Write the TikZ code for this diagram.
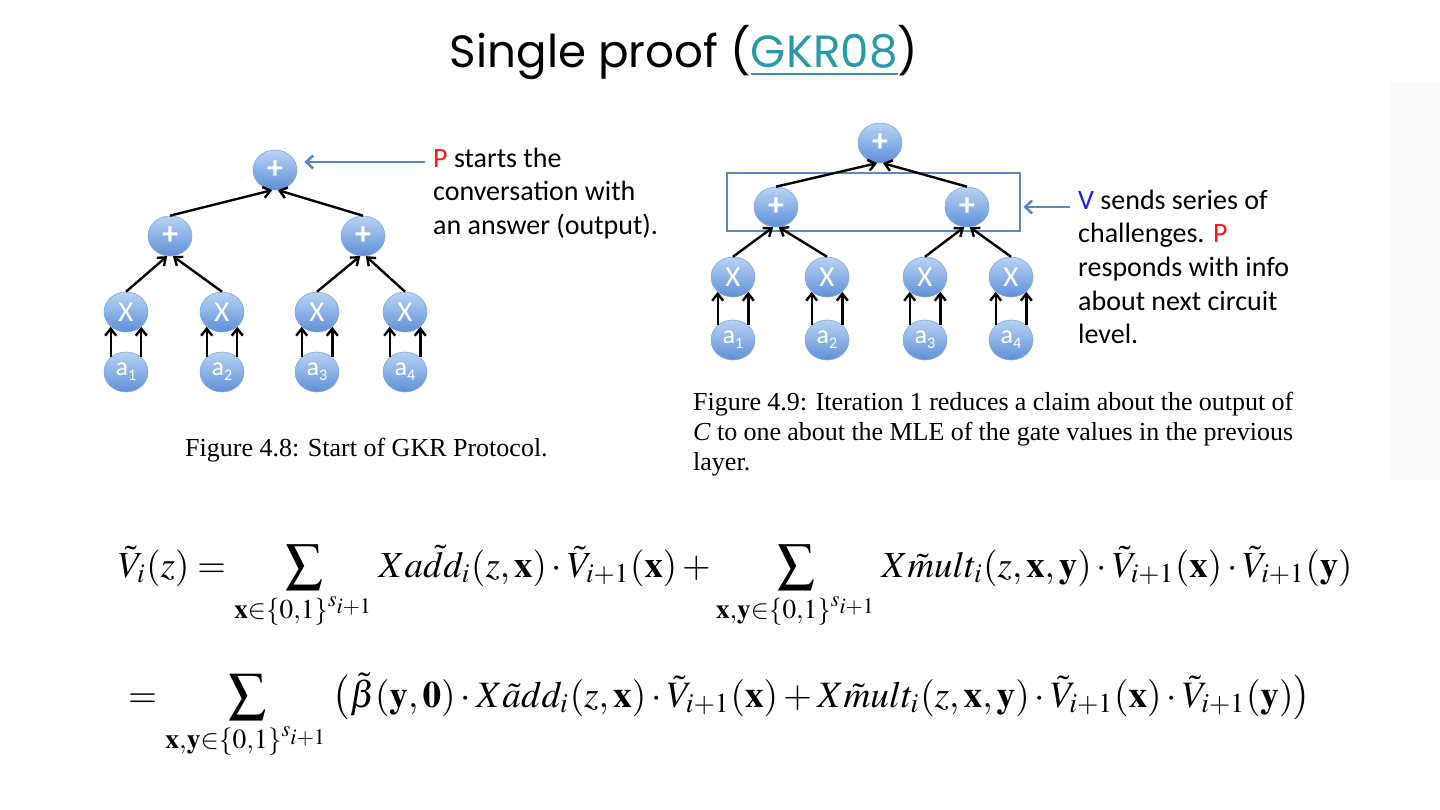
\documentclass[tikz,border=0pt]{standalone}
\usepackage{mathptmx}
\usepackage[no-math]{fontspec}
\setmainfont{Liberation Serif}
\newfontfamily\calib{Carlito}
\newfontfamily\titlefont{Poppins}
\usetikzlibrary{shapes.geometric,arrows.meta}
\definecolor{nodetop}{HTML}{B8D4F4}
\definecolor{nodebot}{HTML}{5F90D8}
\definecolor{nodeedge}{HTML}{7FA7DC}
\definecolor{steel}{HTML}{5B89BF}
\definecolor{linkteal}{HTML}{2A9AA6}
\definecolor{pred}{HTML}{FF1A1A}
\definecolor{vblue}{HTML}{2020E8}
\definecolor{panelgray}{HTML}{FAFAFA}
\newcommand\gatesub[1]{\fontsize{26}{26}\selectfont a\raisebox{-5pt}{\fontsize{16}{16}\selectfont #1}}
\newcommand\gateplus{\fontsize{32}{32}\selectfont\bfseries +}
\newcommand\gatetimes{\fontsize{29}{29}\selectfont X}
\begin{document}
\begin{tikzpicture}[x=1pt,y=-1pt,
  gate/.style={ellipse, minimum width=44pt, minimum height=40pt, inner sep=0pt,
    top color=nodetop, bottom color=nodebot, draw=nodeedge, line width=0.6pt,
    text=white, font=\calib},
  wire/.style={line width=2.4pt, -{Straight Barb[length=7pt,width=11pt]}},
  callout/.style={line width=2.6pt, draw=steel, -{Straight Barb[length=7pt,width=13pt]}},
  lbl/.style={anchor=base west, inner sep=0pt, font=\calib\fontsize{28}{33}\selectfont},
  figcap/.style={anchor=base west, inner sep=0pt, font=\fontsize{26}{30}\selectfont},
]
\useasboundingbox (0,0) rectangle (1440,810);
\fill[white] (0,0) rectangle (1440,810);
\fill[panelgray] (1390,82) rectangle (1440,480);

% title
\node[inner sep=0pt] (title) at (684,52) {\resizebox{468pt}{!}{\titlefont Single proof (\textcolor{linkteal}{\underline{GKR08}})}};

% ---------- left tree ----------
\node[gate] (lt) at (275,170) {\gateplus};
\node[gate] (ll) at (170,236) {\gateplus};
\node[gate] (lr) at (363,236) {\gateplus};
\node[gate] (lx1) at (126,312) {\gatetimes};
\node[gate] (lx2) at (222,312) {\gatetimes};
\node[gate] (lx3) at (317,312) {\gatetimes};
\node[gate] (lx4) at (405,312) {\gatetimes};
\node[gate] (la1) at (126,372) {\gatesub{1}};
\node[gate] (la2) at (222,372) {\gatesub{2}};
\node[gate] (la3) at (317,372) {\gatesub{3}};
\node[gate] (la4) at (405,372) {\gatesub{4}};
\draw[wire] (ll.north) -- (lt.262);
\draw[wire] (lr.north) -- (lt.278);
\draw[wire] (lx1.north) -- (ll.262);
\draw[wire] (lx2.north) -- (ll.278);
\draw[wire] (lx3.north) -- (lr.262);
\draw[wire] (lx4.north) -- (lr.278);
\foreach \i in {1,2,3,4}{
  \draw[wire] (la\i.136) -- (lx\i.224);
  \draw[wire] (la\i.44) -- (lx\i.316);
}
\coordinate (pstart) at (425,162);
\draw[callout] (pstart) -- ([xshift=7pt]pstart -| lt.east);
\node[lbl] (pt1) at (433,168) {\textcolor{pred}{P} starts the};
\node[lbl] (pt2) at (433,201) {conversation with};
\node[lbl] (pt3) at (433,235) {an answer (output).};
\node[figcap] (cap1) at (185,456) {Figure 4.8: Start of GKR Protocol.};

% ---------- right tree ----------
\node[draw=steel, line width=2.5pt, minimum width=293pt, minimum height=58pt, inner sep=0pt] (box) at (873.5,202) {};
\node[gate] (rt) at (880,143) {\gateplus};
\node[gate] (rl) at (776,207) {\gateplus};
\node[gate] (rr) at (967,207) {\gateplus};
\node[gate] (rx1) at (733,277) {\gatetimes};
\node[gate] (rx2) at (827,277) {\gatetimes};
\node[gate] (rx3) at (925,277) {\gatetimes};
\node[gate] (rx4) at (1011,277) {\gatetimes};
\node[gate] (ra1) at (733,340) {\gatesub{1}};
\node[gate] (ra2) at (827,340) {\gatesub{2}};
\node[gate] (ra3) at (925,340) {\gatesub{3}};
\node[gate] (ra4) at (1011,340) {\gatesub{4}};
\draw[wire] (rl.north) -- (rt.262);
\draw[wire] (rr.north) -- (rt.278);
\draw[wire] (rx1.north) -- (rl.262);
\draw[wire] (rx2.north) -- (rl.278);
\draw[wire] (rx3.north) -- (rr.262);
\draw[wire] (rx4.north) -- (rr.278);
\foreach \i in {1,2,3,4}{
  \draw[wire] (ra\i.136) -- (rx\i.224);
  \draw[wire] (ra\i.44) -- (rx\i.316);
}
\coordinate (vstart) at (1070,207);
\draw[callout] (vstart) -- ([xshift=2pt]vstart -| box.east);
\node[lbl] (vt1) at (1078,210) {\textcolor{vblue}{V} sends series of};
\node[lbl] (vt2) at (1078,243) {challenges. \textcolor{pred}{P}};
\node[lbl] (vt3) at (1078,277) {responds with info};
\node[lbl] (vt4) at (1078,310) {about next circuit};
\node[lbl] (vt5) at (1078,343) {level.};
\node[figcap] (cap2a) at (693,410) {\makebox[600pt][s]{Figure 4.9: Iteration 1 reduces a claim about the output of}};
\node[figcap] (cap2b) at (693,440) {\makebox[600pt][s]{\textit{C} to one about the MLE of the gate values in the previous}};
\node[figcap] (cap2c) at (693,470) {layer.};

% ---------- formulas ----------
\node[anchor=base west, inner sep=0pt] (f1) at (118,577) {\resizebox{1234pt}{!}{$\displaystyle
 \tilde{V}_i(z) = \sum_{\mathbf{x}\in\{0,1\}^{s_{i+1}}} Xa\tilde{d}d_i(z,\mathbf{x})\cdot\tilde{V}_{i+1}(\mathbf{x})
 + \sum_{\mathbf{x},\mathbf{y}\in\{0,1\}^{s_{i+1}}} X\tilde{m}ult_i(z,\mathbf{x},\mathbf{y})\cdot\tilde{V}_{i+1}(\mathbf{x})\cdot\tilde{V}_{i+1}(\mathbf{y})$}};
\node[anchor=base west, inner sep=0pt] (f2) at (128,707) {\resizebox{1182pt}{!}{$\displaystyle
 = \sum_{\mathbf{x},\mathbf{y}\in\{0,1\}^{s_{i+1}}} \big(\tilde{\beta}(\mathbf{y},\mathbf{0})\cdot X\tilde{a}dd_i(z,\mathbf{x})\cdot\tilde{V}_{i+1}(\mathbf{x})
 + X\tilde{m}ult_i(z,\mathbf{x},\mathbf{y})\cdot\tilde{V}_{i+1}(\mathbf{x})\cdot\tilde{V}_{i+1}(\mathbf{y})\big)$}};
\end{tikzpicture}
\end{document}
